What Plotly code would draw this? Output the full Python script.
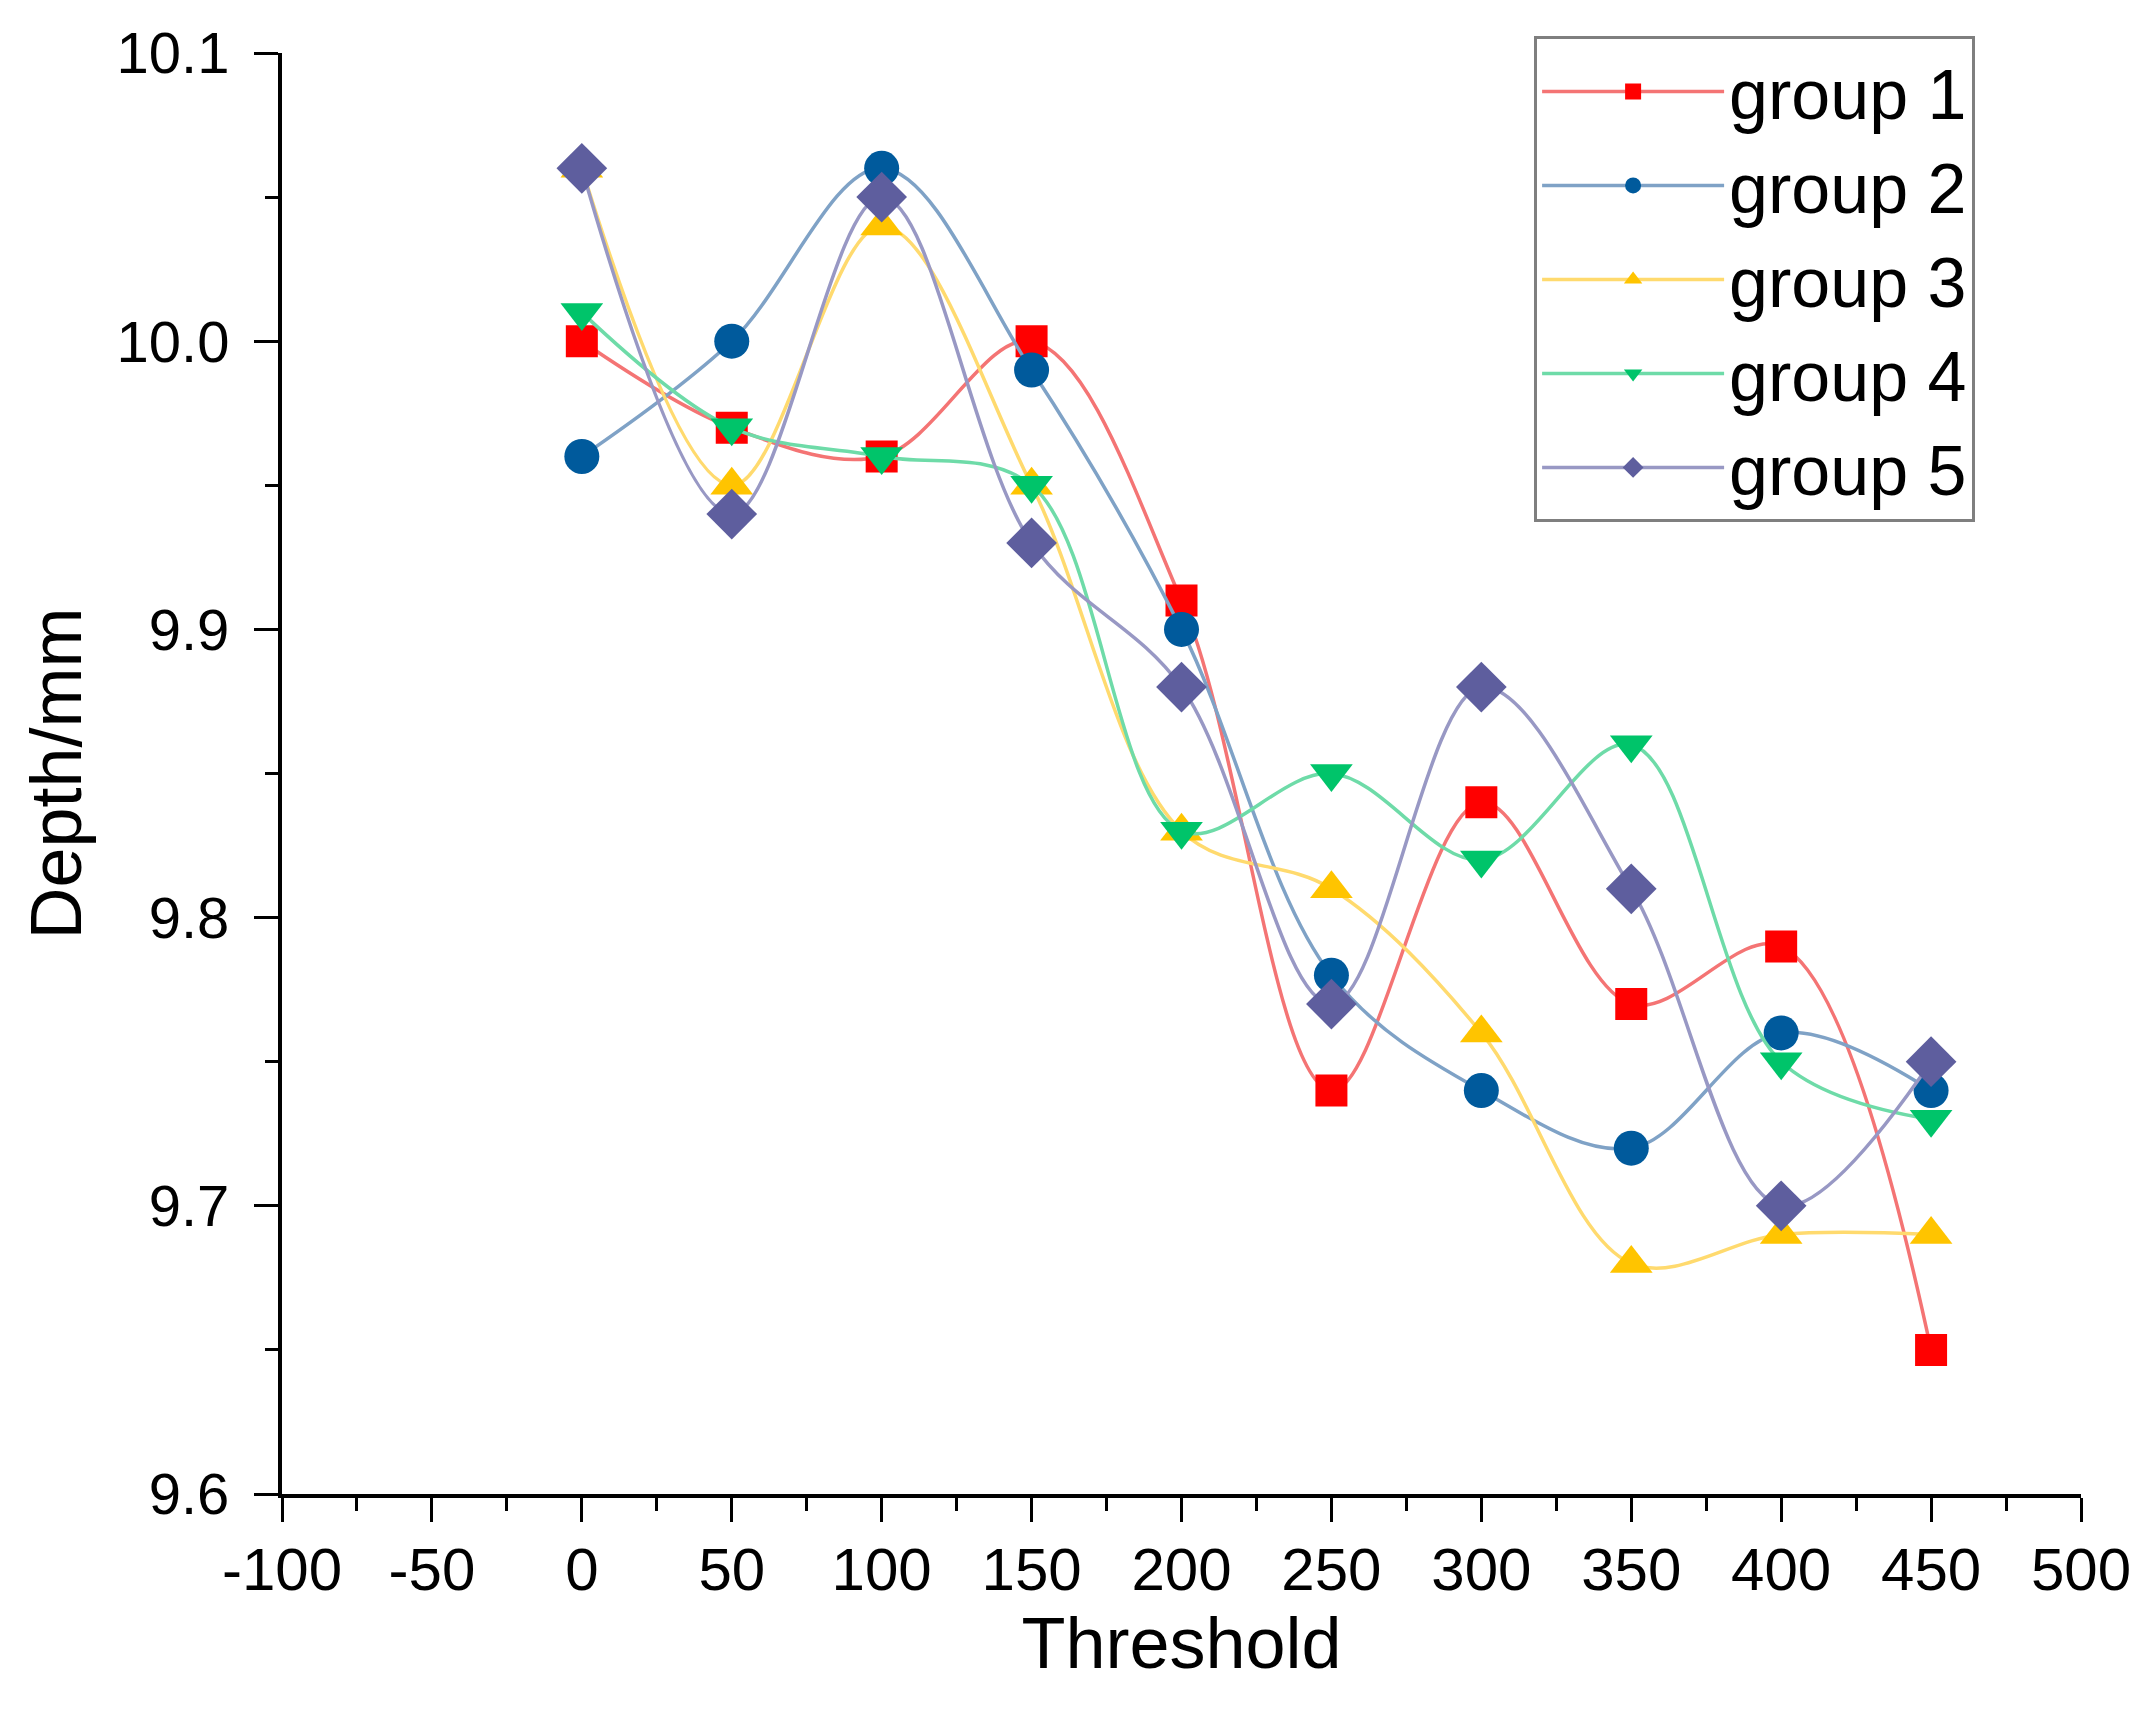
import plotly.graph_objects as go

# Threshold values on the x axis
threshold = [0, 50, 100, 150, 200, 250, 300, 350, 400, 450]

# Depth readings per group (mm)
group1 = [10.00, 9.97, 9.96, 10.00, 9.91, 9.74, 9.84, 9.77, 9.79, 9.65]
group2 = [9.96, 10.00, 10.06, 9.99, 9.90, 9.78, 9.74, 9.72, 9.76, 9.74]
group3 = [10.06, 9.95, 10.04, 9.95, 9.83, 9.81, 9.76, 9.68, 9.69, 9.69]
group4 = [10.01, 9.97, 9.96, 9.95, 9.83, 9.85, 9.82, 9.86, 9.75, 9.73]
group5 = [10.06, 9.94, 10.05, 9.93, 9.88, 9.77, 9.88, 9.81, 9.70, 9.75]

names = ['group 1', 'group 2', 'group 3', 'group 4', 'group 5']
series = [group1, group2, group3, group4, group5]

# x tick labels use a plain hyphen like the original
x_tickvals = [-100, -50, 0, 50, 100, 150, 200, 250, 300, 350, 400, 450, 500]
x_ticktext = ['-100', '-50', '0', '50', '100', '150', '200', '250', '300', '350', '400', '450', '500']

symbols = ['square', 'circle', 'triangle-up', 'triangle-down', 'diamond']
marker_colors = ['#FF0000', '#005A9C', '#FFC400', '#00C46A', '#5E5E9E']
line_colors = ['#F47474', '#7FA2C6', '#FFDA6E', '#6EDBA8', '#9898C4']
marker_sizes = [32, 35, 37, 37, 39]

font = "Arial, Liberation Sans, sans-serif"

fig = go.Figure()

for name, vals, sym, mc, lc, ms in zip(names, series, symbols, marker_colors, line_colors, marker_sizes):
    fig.add_trace(go.Scatter(x=threshold,
                             y=vals,
                             mode='lines+markers',
                             name=name,
                             line=dict(color=lc, width=3.5, shape='spline', smoothing=1.0),
                             marker=dict(symbol=sym, color=mc, size=ms, line=dict(width=0))))

axis_common = dict(showline=True,
                   linecolor='black',
                   linewidth=4,
                   ticks='outside',
                   tickwidth=3,
                   ticklen=24,
                   tickcolor='black',
                   showgrid=False,
                   zeroline=False,
                   mirror=False)

fig.update_xaxes(range=[-100, 500],
                 tickvals=x_tickvals,
                 ticktext=x_ticktext,
                 tickfont=dict(family=font, size=60, color='black'),
                 ticklabelstandoff=-4,
                 minor=dict(ticks='outside', dtick=25, ticklen=13, tickwidth=3, tickcolor='black'),
                 title=dict(text='Threshold', font=dict(family=font, size=72, color='black'), standoff=10),
                 **axis_common)

fig.update_yaxes(range=[9.6, 10.1],
                 dtick=0.1,
                 tick0=9.6,
                 tickformat='.1f',
                 tickfont=dict(family=font, size=58, color='black'),
                 ticklabelstandoff=13,
                 minor=dict(ticks='outside', dtick=0.05, ticklen=13, tickwidth=3, tickcolor='black'),
                 title=dict(text='Depth/mm', font=dict(family=font, size=72, color='black'), standoff=12),
                 **axis_common)

fig.update_layout(width=2150,
                  height=1734,
                  margin=dict(l=274, r=77, t=40, b=248),
                  plot_bgcolor='white',
                  paper_bgcolor='white',
                  font=dict(family=font, color='black'),
                  legend=dict(x=0.696,
                              y=1.0115,
                              xanchor='left',
                              yanchor='top',
                              bgcolor='white',
                              bordercolor='#7F7F7F',
                              borderwidth=3,
                              itemwidth=182,
                              font=dict(family=font, size=70, color='black')))

fig.write_html("out.html")
